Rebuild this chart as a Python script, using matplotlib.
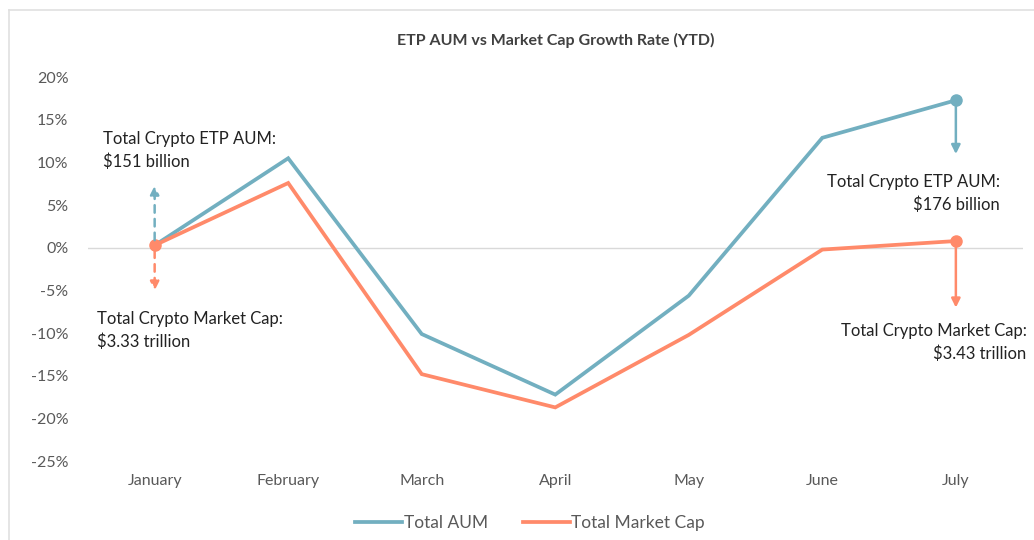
import numpy as np
import matplotlib.pyplot as plt
from matplotlib.lines import Line2D

plt.rcParams['font.family'] = ['Lato', 'DejaVu Sans']

## data ####################################################################
months = ['January', 'February', 'March', 'April', 'May', 'June', 'July']
aum = [0.3, 10.5, -10.1, -17.2, -5.6, 12.9, 17.3]          # Total AUM growth [%]
mcap = [0.3, 7.6, -14.8, -18.7, -10.2, -0.2, 0.8]          # Total Market Cap growth [%]
yticks = [20, 15, 10, 5, 0, -5, -10, -15, -20, -25]

teal = '#72AFC0'
orange = '#FF8A6A'
grey = '#595959'

fig = plt.figure(figsize=(10.34, 5.4), dpi=100)
ax = fig.add_axes([0.085, 0.146, 0.904, 0.711])

x = np.arange(len(months))
ax.plot(x, aum, color=teal, lw=2.7, label='Total AUM', solid_joinstyle='miter')
ax.plot(x, mcap, color=orange, lw=2.7, label='Total Market Cap', solid_joinstyle='miter')

# end point markers
ax.plot(x[-1], aum[-1], 'o', color=teal, ms=8)
ax.plot(x[-1], mcap[-1], 'o', color=orange, ms=8)
ax.plot(x[0], mcap[0], 'o', color=orange, ms=8)

ax.axhline(0, color='#d9d9d9', lw=1, zorder=0)

ax.set_xlim(-0.5, 6.5)
ax.set_ylim(-25, 20)
ax.set_xticks(x)
ax.set_xticklabels(months)
ax.set_yticks(yticks)
ax.set_yticklabels([f'{t}%' for t in yticks])
ax.tick_params(length=0, labelsize=11.5, colors=grey)
ax.tick_params(axis='x', pad=9)
ax.tick_params(axis='y', pad=14)
for s in ax.spines.values():
    s.set_visible(False)

ax.set_title('ETP AUM vs Market Cap Growth Rate (YTD)', fontsize=11.5,
             fontweight='bold', color='#404040', pad=23)

# arrows
arr = dict(arrowstyle='-|>', lw=1.8, mutation_scale=13, shrinkA=0, shrinkB=0)
ax.annotate('', xy=(0, 7.3), xytext=(0, 0.9),
            arrowprops=dict(arr, color=teal, linestyle=(0, (3, 2.5))), annotation_clip=False)
ax.annotate('', xy=(0, -5.0), xytext=(0, -0.3),
            arrowprops=dict(arr, color=orange, linestyle=(0, (3, 2.5))), annotation_clip=False)
ax.annotate('', xy=(6, 11.0), xytext=(6, 17.3),
            arrowprops=dict(arr, color=teal), annotation_clip=False)
ax.annotate('', xy=(6, -7.0), xytext=(6, 0.8),
            arrowprops=dict(arr, color=orange), annotation_clip=False)

# labels
txt = dict(fontsize=12, color='#222222', va='center', linespacing=1.45)
ax.text(-0.39, 11.4, 'Total Crypto ETP AUM:\n$151 billion', ha='left', **txt)
ax.text(-0.43, -9.7, 'Total Crypto Market Cap:\n$3.33 trillion', ha='left', **txt)
ax.text(6.33, 6.4, 'Total Crypto ETP AUM:\n$176 billion', ha='right', multialignment='right', **txt)
ax.text(6.53, -11.1, 'Total Crypto Market Cap:\n$3.43 trillion', ha='right', multialignment='right', **txt)

leg = ax.legend(loc='upper center', bbox_to_anchor=(0.473, -0.1), ncol=2, frameon=False,
                fontsize=12.5, handlelength=2.7, handletextpad=0.1, columnspacing=2.0)
for t in leg.get_texts():
    t.set_color(grey)

# light frame at left and top
fig.add_artist(Line2D([0.009, 0.009], [0, 0.982], color='#e0e0e0', lw=1.2))
fig.add_artist(Line2D([0.009, 1.0], [0.982, 0.982], color='#e0e0e0', lw=1.2))

fig.savefig('out.png', dpi=100)
